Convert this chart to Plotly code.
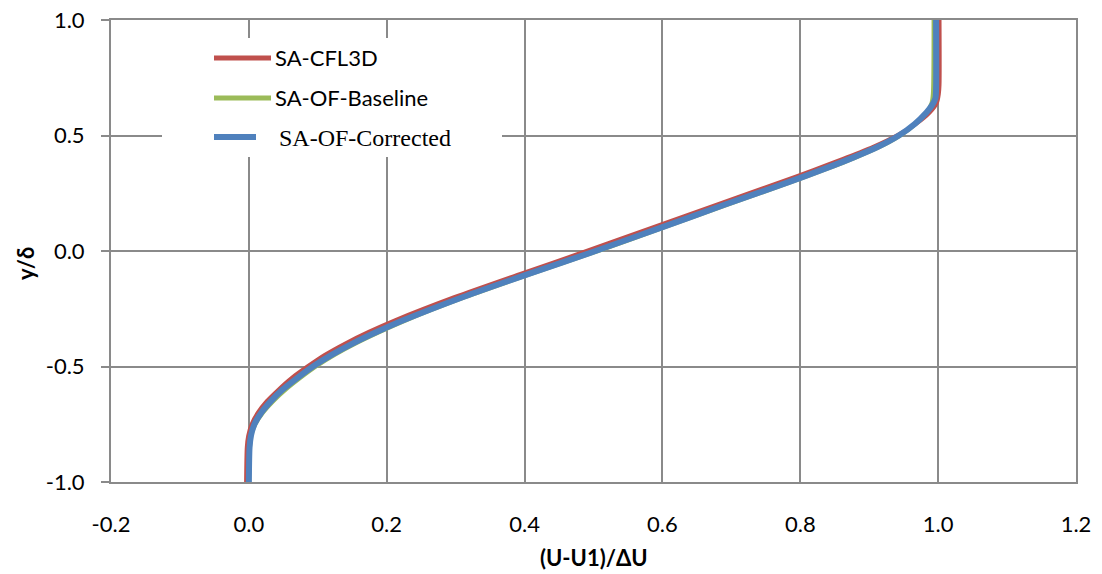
import plotly.graph_objects as go

# ---- data ----
red_y = [-1.00, -0.85, -0.80, -0.75, -0.70, -0.65, -0.60, -0.55, -0.50, -0.45, -0.40, -0.35, -0.30,
         -0.20, -0.10, 0.00, 0.10, 0.20, 0.30, 0.35, 0.40, 0.45, 0.50, 0.55, 0.60, 0.64, 0.68, 0.72, 1.00]
red_x = [-0.004, -0.003, -0.001, 0.004, 0.013, 0.026, 0.043, 0.062, 0.085, 0.110, 0.140, 0.174, 0.212,
         0.298, 0.393, 0.490, 0.584, 0.678, 0.773, 0.819, 0.863, 0.905, 0.940, 0.968, 0.988, 0.998, 1.001,
         1.002, 1.002]

green_y = [-1.00, -0.85, -0.80, -0.75, -0.70, -0.65, -0.60, -0.55, -0.50, -0.45, -0.40, -0.35, -0.30,
           -0.20, -0.10, 0.00, 0.10, 0.20, 0.30, 0.35, 0.40, 0.45, 0.50, 0.55, 0.60, 0.64, 0.68, 1.00]
green_x = [0.001, 0.002, 0.004, 0.010, 0.021, 0.036, 0.054, 0.075, 0.098, 0.125, 0.156, 0.191, 0.229,
           0.315, 0.410, 0.508, 0.602, 0.695, 0.790, 0.835, 0.878, 0.916, 0.946, 0.968, 0.983, 0.990, 0.992,
           0.993]

blue_y = [-1.00, -0.85, -0.80, -0.75, -0.70, -0.65, -0.60, -0.55, -0.50, -0.45, -0.40, -0.35, -0.30,
          -0.20, -0.10, 0.00, 0.10, 0.20, 0.30, 0.35, 0.40, 0.45, 0.50, 0.55, 0.60, 0.63, 0.66, 0.70, 1.00]
blue_x = [0.000, 0.001, 0.003, 0.008, 0.018, 0.032, 0.049, 0.070, 0.093, 0.120, 0.151, 0.186, 0.224,
          0.310, 0.405, 0.503, 0.597, 0.690, 0.785, 0.830, 0.873, 0.912, 0.943, 0.966, 0.983, 0.991, 0.996,
          0.997, 0.997]

series_names = ["SA-CFL3D", "SA-OF-Baseline", "SA-OF-Corrected"]
colors = ["#C0504D", "#9BBB59", "#4F81BD"]
widths = [4, 3.5, 6]

x_ticks = [-0.2, 0.0, 0.2, 0.4, 0.6, 0.8, 1.0, 1.2]
y_ticks = [-1.0, -0.5, 0.0, 0.5, 1.0]
x_title = "(U-U1)/ΔU"
y_title = "y/δ"

# ---- layout geometry ----
W, H = 1102, 574
L, R, T, B = 111, 26, 20, 92


def px(xp):
    return (xp - L) / (W - L - R)


def py(yp):
    return (H - B - yp) / (H - T - B)


FONT = "Lato, 'Open Sans', sans-serif"
GRID = "#8A8A8A"

fig = go.Figure()
for xs, ys, name, c, w in [(red_x, red_y, series_names[0], colors[0], widths[0]),
                           (green_x, green_y, series_names[1], colors[1], widths[1]),
                           (blue_x, blue_y, series_names[2], colors[2], widths[2])]:
    fig.add_trace(go.Scatter(x=xs, y=ys, mode="lines", name=name,
                             line=dict(color=c, width=w, shape="spline", smoothing=0.7),
                             showlegend=False))

fig.update_layout(
    width=W, height=H,
    margin=dict(l=L, r=R, t=T, b=B, pad=0, autoexpand=False),
    paper_bgcolor="white", plot_bgcolor="white",
    font=dict(family=FONT, size=22, color="black"),
    xaxis=dict(range=[-0.2, 1.2], tickvals=x_ticks, ticktext=[f"{v:.1f}" for v in x_ticks],
               showgrid=True, gridcolor=GRID, gridwidth=2, zeroline=False, automargin=False,
               showline=True, linecolor=GRID, linewidth=2, mirror=True,
               ticks="", ticklabelstandoff=22, tickfont=dict(size=22)),
    yaxis=dict(range=[-1.0, 1.0], tickvals=y_ticks, ticktext=[f"{v:.1f}" for v in y_ticks],
               showgrid=True, gridcolor=GRID, gridwidth=2, zeroline=False, automargin=False,
               showline=True, linecolor=GRID, linewidth=2, mirror=True,
               ticks="outside", ticklen=8, tickwidth=2, tickcolor=GRID,
               ticklabelstandoff=12, tickfont=dict(size=22)),
)

shapes = [dict(type="rect", xref="paper", yref="paper", x0=px(162), x1=px(502), y0=py(157), y1=py(38),
               fillcolor="white", line=dict(width=0), layer="above")]
legend_rows = [(58, 214, 271, 273, 58), (98, 214, 271, 273, 98), (137, 214, 256, 277, 138)]
annotations = []
for i, (ly, lx0, lx1, tx, ty) in enumerate(legend_rows):
    shapes.append(dict(type="line", xref="paper", yref="paper", x0=px(lx0), x1=px(lx1), y0=py(ly), y1=py(ly),
                       line=dict(color=colors[i], width=5 if i < 2 else 6), layer="above"))
    fam = "'Liberation Serif', 'Times New Roman', serif" if i == 2 else FONT
    annotations.append(dict(text=series_names[i], xref="paper", yref="paper", x=px(tx), y=py(ty),
                            xanchor="left", yanchor="middle", showarrow=False,
                            font=dict(family=fam, size=24 if i == 2 else 22, color="black")))

annotations.append(dict(text="<b>" + x_title + "</b>", xref="paper", yref="paper", x=px(594), y=py(557),
                        xanchor="center", yanchor="middle", showarrow=False, font=dict(size=22)))
annotations.append(dict(text="<b>" + y_title + "</b>", xref="paper", yref="paper", x=px(25), y=py(264),
                        xanchor="center", yanchor="middle", showarrow=False, textangle=-90,
                        font=dict(size=22)))

fig.update_layout(shapes=shapes, annotations=annotations)
fig.write_html("out.html", config={"displayModeBar": False},
               post_script="document.body.style.margin='0';document.body.style.overflow='hidden';")
